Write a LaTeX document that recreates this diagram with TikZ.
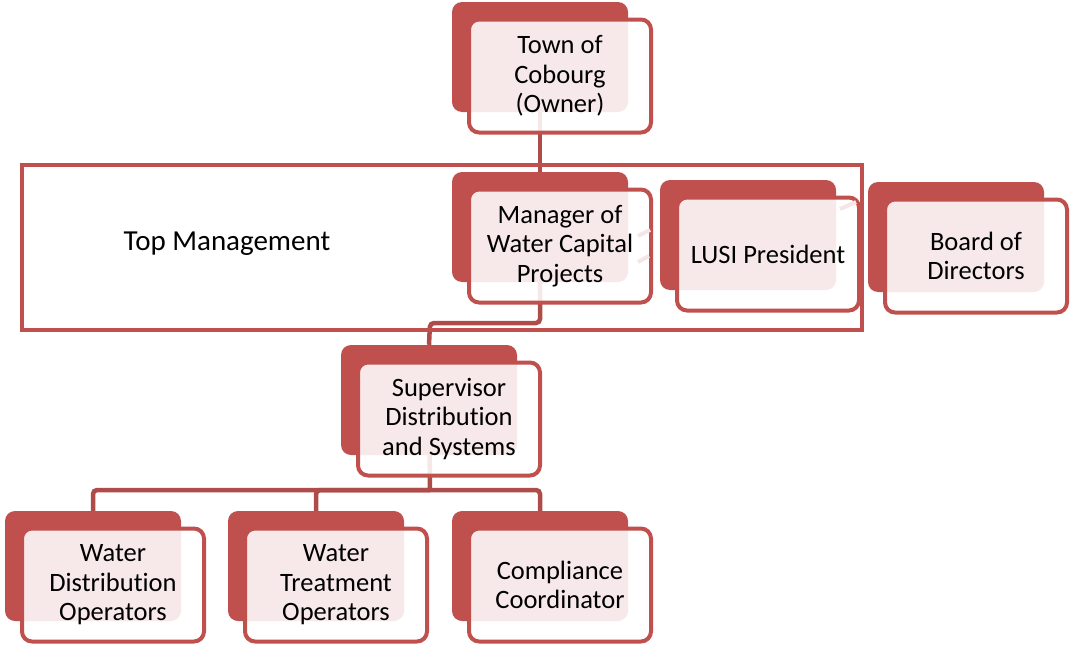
\documentclass[tikz,border=0pt]{standalone}
\usepackage{fontspec}
\setmainfont{Carlito}[Ligatures=NoCommon]
\usetikzlibrary{backgrounds}
\definecolor{boxred}{HTML}{C0504D}
\definecolor{linkred}{HTML}{AD4C49}
\definecolor{faintred}{RGB}{245,230,229}
\tikzset{
  backbox/.style={fill=boxred, draw=none, rounded corners=10pt, minimum width=176pt, minimum height=110pt, inner sep=0pt},
  frontbox/.style={draw=boxred, line width=4pt, fill=white, fill opacity=0.88, text opacity=1, rounded corners=10pt, minimum width=182pt, minimum height=113pt, inner sep=0pt, align=center, text=black, font=\fontsize{26.5}{29.5}\selectfont},
  link/.style={draw=linkred, line width=4.5pt, rounded corners=4pt},
  faintlink/.style={draw=faintred, line width=4pt},
  groupbox/.style={draw=boxred, line width=4pt, fill=none, minimum width=840pt, minimum height=165pt, inner sep=0pt},
  grouplabel/.style={font=\fontsize{29}{32}\selectfont, text=black}
}
\newcommand{\orgbox}[4]{%
  \node[backbox] (#1b) at (#2+88,#3+55) {};
  \node[frontbox] (#1) at (#2+108,#3+74) {#4};}
\begin{document}
\begin{tikzpicture}[x=1pt,y=-1pt]
\useasboundingbox (0,0) rectangle (1071,645);
% group box
\node[groupbox] (topmgmt) at (442,247.5) {};
\node[grouplabel] (toplabel) at (227,244) {Top Management};
% boxes
\orgbox{town}{452}{2}{Town of\\Cobourg\\(Owner)}
\orgbox{manager}{452}{172}{Manager of\\Water Capital\\Projects}
\orgbox{lusi}{660}{180}{LUSI President}
\orgbox{board}{868}{182}{Board of\\Directors}
\orgbox{sup}{341}{345}{Supervisor\\Distribution\\and Systems}
\orgbox{wd}{5}{511}{Water\\Distribution\\Operators}
\orgbox{wt}{228}{511}{Water\\Treatment\\Operators}
\orgbox{cc}{452}{511}{Compliance\\Coordinator}
% connectors
\coordinate (j1) at (430,323);
\coordinate (j2) at (430,490);
\begin{scope}[on background layer]
  \draw[link] (townb.center) -- (managerb.north);
  \draw[link] (managerb.center) |- (j1) -- (supb.north);
  \draw[link] (supb.center) -- (j2);
  \draw[link] (j2) -| (wdb.north);
  \draw[link] (j2) -| (wtb.north);
  \draw[link] (j2) -| (ccb.north);
\end{scope}
% faint traces
\coordinate (f1a) at (638,236); \coordinate (f1b) at (650,230);
\coordinate (f2a) at (638,262); \coordinate (f2b) at (649,256);
\coordinate (f3a) at (840,209); \coordinate (f3b) at (856,202);
\draw[faintlink] (f1a) -- (f1b);
\draw[faintlink] (f2a) -- (f2b);
\draw[faintlink] (f3a) -- (f3b);
\end{tikzpicture}
\end{document}
